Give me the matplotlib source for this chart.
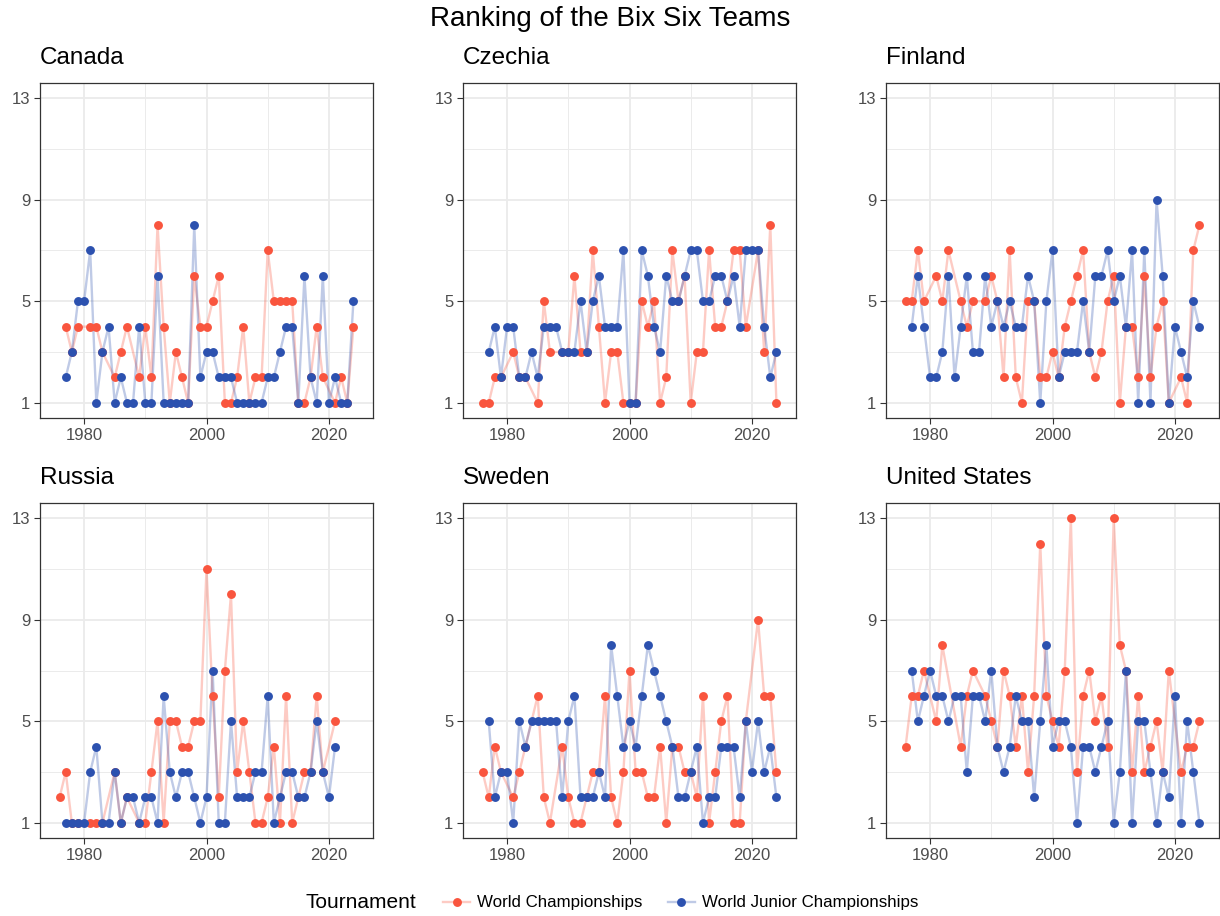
import numpy as np
import matplotlib
matplotlib.use("Agg")
import matplotlib.pyplot as plt
from matplotlib.colors import to_rgba
from matplotlib.lines import Line2D

N = None
YEARS = np.arange(1976, 2025)

TEAMS = ["Canada", "Czechia", "Finland", "Russia", "Sweden", "United States"]

# World Championships rank per year (1976..2024), None = no entry
CAN_WC = [N, 4, 3, 4, N, 4, 4, 3, N, 2, 3, 4, N, 2, 4, 2, 8, 4, 1, 3, 2, 1, 6, 4, 4,
          5, 6, 1, 1, 2, 4, 1, 2, 2, 7, 5, 5, 5, 5, 1, 1, 2, 4, 2, N, 1, 2, 1, 4]
CZE_WC = [1, 1, 2, 2, N, 3, 2, 2, N, 1, 5, 3, N, 3, 3, 6, 3, 3, 7, 4, 1, 3, 3, 1, 1,
          1, 5, 4, 5, 1, 2, 7, 5, 6, 1, 3, 3, 7, 4, 4, 5, 7, 7, 4, N, 7, 3, 8, 1]
FIN_WC = [5, 5, 7, 5, N, 6, 5, 7, N, 5, 4, 5, N, 5, 6, 5, 2, 7, 2, 1, 5, 5, 2, 2, 3,
          2, 4, 5, 6, 7, 3, 2, 3, 5, 6, 1, 4, 4, 2, 6, 2, 4, 5, 1, N, 2, 1, 7, 8]
RUS_WC = [2, 3, 1, 1, N, 1, 1, 1, N, 3, 1, 2, N, 1, 1, 3, 5, 1, 5, 5, 4, 4, 5, 5, 11,
          6, 2, 7, 10, 3, 5, 3, 1, 1, 2, 4, 1, 6, 1, 2, 3, 3, 6, 3, N, 5, N, N, N]
SWE_WC = [3, 2, 4, 3, N, 2, 3, 4, N, 6, 2, 1, N, 4, 2, 1, 1, 2, 3, 3, 6, 2, 1, 3, 7,
          3, 3, 2, 2, 4, 1, 4, 4, 3, 3, 2, 6, 1, 3, 5, 6, 1, 1, 5, N, 9, 6, 6, 3]
USA_WC = [4, 6, 6, 7, N, 5, 8, N, N, 4, 6, 7, N, 6, 5, 4, 7, 6, 4, 6, 3, 6, 12, 6, 5,
          4, 7, 13, 3, 6, 7, 5, 6, 4, 13, 8, 7, 3, 6, 3, 4, 5, 3, 7, N, 3, 4, 4, 5]

# World Junior Championships rank per year (1976..2024)
CAN_WJC = [N, 2, 3, 5, 5, 7, 1, 3, 4, 1, 2, 1, 1, 4, 1, 1, 6, 1, 1, 1, 1, 1, 8, 2, 3,
           3, 2, 2, 2, 1, 1, 1, 1, 1, 2, 2, 3, 4, 4, 1, 6, 2, 1, 6, 1, 2, 1, 1, 5]
CZE_WJC = [N, 3, 4, 2, 4, 4, 2, 2, 3, 2, 4, 4, 4, 3, 3, 3, 5, 3, 5, 6, 4, 4, 4, 7, 1,
           1, 7, 6, 4, 3, 6, 5, 5, 6, 7, 7, 5, 5, 6, 6, 5, 6, 4, 7, 7, 7, 4, 2, 3]
FIN_WJC = [N, 4, 6, 4, 2, 2, 3, 6, 2, 4, 6, 3, 3, 6, 4, 5, 4, 5, 4, 4, 6, 5, 1, 5, 7,
           2, 3, 3, 3, 5, 3, 6, 6, 7, 5, 6, 4, 7, 1, 7, 1, 9, 6, 1, 4, 3, 2, 5, 4]
RUS_WJC = [N, 1, 1, 1, 1, 3, 4, 1, 1, 3, 1, 2, 2, 1, 2, 2, 1, 6, 3, 2, 3, 3, 2, 1, 2,
           7, 1, 1, 5, 2, 2, 2, 3, 3, 6, 1, 2, 3, 3, 2, 2, 3, 5, 3, 2, 4, N, N, N]
SWE_WJC = [N, 5, 2, 3, 3, 1, 5, 4, 5, 5, 5, 5, 5, 2, 5, 6, 2, 2, 2, 3, 2, 8, 6, 4, 5,
           4, 6, 8, 7, 6, 5, 4, 2, 2, 3, 4, 1, 2, 2, 4, 4, 4, 2, 5, 3, 5, 3, 4, 2]
USA_WJC = [N, 7, 5, 6, 7, 6, 6, 5, 6, 6, 3, 6, 6, 5, 7, 4, 3, 4, 6, 5, 5, 2, 5, 8, 4,
           5, 5, 4, 1, 4, 4, 3, 4, 5, 1, 3, 7, 1, 5, 5, 3, 1, 3, 2, 6, 1, 5, 3, 1]

WC = [CAN_WC, CZE_WC, FIN_WC, RUS_WC, SWE_WC, USA_WC]
WJC = [CAN_WJC, CZE_WJC, FIN_WJC, RUS_WJC, SWE_WJC, USA_WJC]

C_WC, C_WJC = "#F9553E", "#2C51AF"
FONT = ["Liberation Sans", "DejaVu Sans"]
plt.rcParams["font.family"] = FONT

W, H = 1220, 916
fig = plt.figure(figsize=(W / 100, H / 100), dpi=100)


def px_axes(x0, y0, w, h):
    return fig.add_axes([x0 / W, 1 - (y0 + h) / H, w / W, h / H])


def series(vals):
    v = np.array([np.nan if x is None else x for x in vals], dtype=float)
    m = ~np.isnan(v)
    return YEARS[m], v[m]


lefts, tops = [40, 463, 886], [83, 503]
PW, PH = 333, 335
for i, team in enumerate(TEAMS):
    ax = px_axes(lefts[i % 3], tops[i // 3], PW, PH)
    for vals, col, z in [(WC[i], C_WC, 2), (WJC[i], C_WJC, 3)]:
        x, y = series(vals)
        ax.plot(x, y, color=col, alpha=0.3, lw=1.7, zorder=z)
        ax.plot(x, y, "o", color=col, ms=6.4, mew=0, zorder=z + 2)
    ax.set_xlim(1972.8, 2027.2)
    ax.set_ylim(0.4, 13.6)
    ax.set_xticks([1980, 2000, 2020])
    ax.set_xticks([1990, 2010], minor=True)
    ax.set_yticks([1, 5, 9, 13])
    ax.set_yticks([3, 7, 11], minor=True)
    ax.grid(True, which="major", color="#EBEBEB", lw=1.3, zorder=0)
    ax.grid(True, which="minor", color="#EBEBEB", lw=0.7, zorder=0)
    ax.set_axisbelow(True)
    ax.tick_params(which="major", length=4, width=0.8, color="#333333",
                   labelsize=12, labelcolor="#4D4D4D", pad=3)
    ax.tick_params(which="minor", length=0)
    for s in ax.spines.values():
        s.set_color("#333333")
        s.set_linewidth(0.9)
    ax.text(0, 1 + 14 / PH, team, transform=ax.transAxes, ha="left",
            va="bottom", fontsize=17.5)

fig.text(0.5, 1 - 19 / H, "Ranking of the Bix Six Teams", ha="center", va="center",
         fontsize=20)

fig.text(305 / W, 1 - 903 / H, "Tournament", ha="left", va="center", fontsize=15)
handles = [Line2D([], [], color=to_rgba(c, 0.3), lw=1.7, marker="o", ms=6.4,
                  markerfacecolor=c, markeredgewidth=0, markeredgecolor=c)
           for c in (C_WC, C_WJC)]
fig.legend(handles, ["World Championships", "World Junior Championships"],
           ncol=2, frameon=False, loc="center left",
           bbox_to_anchor=(428 / W, 1 - 903 / H), fontsize=12.2,
           handlelength=1.6, handletextpad=0.4, columnspacing=1.5)

fig.savefig("out.png", dpi=100)
